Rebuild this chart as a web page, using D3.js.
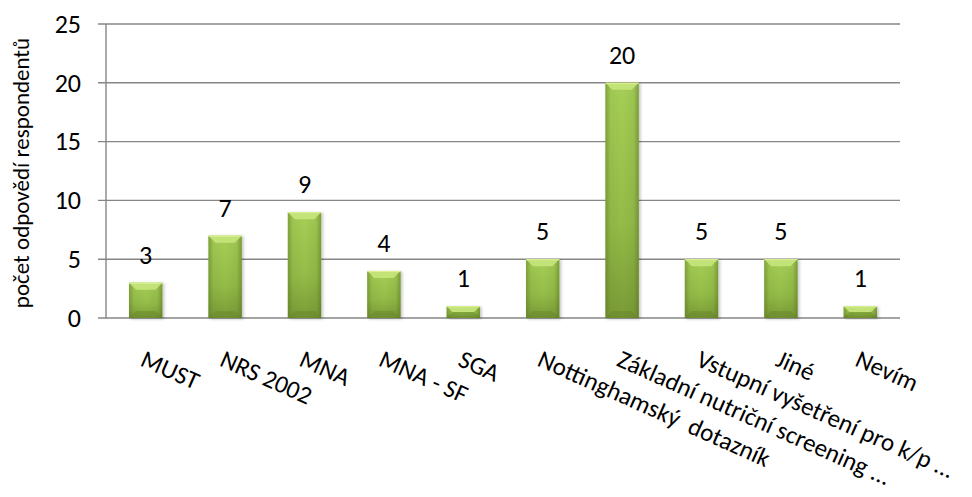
<!DOCTYPE html>
<html>
<head>
<meta charset="utf-8">
<script src="https://cdn.jsdelivr.net/npm/d3@7"></script>
<style>
  body { margin: 0; background: #fff; }
  svg { display: block; font-family: Carlito, Calibri, Lato, sans-serif; }
</style>
</head>
<body>
<div id="chart"></div>
<script>
const categories = ["MUST", "NRS 2002", "MNA", "MNA - SF", "SGA", "Nottinghamský  dotazník",
    "Základní nutriční screening ...", "Vstupní vyšetření pro k/p ...", "Jiné", "Nevím"];
const values = [3, 7, 9, 4, 1, 5, 20, 5, 5, 1];
const yTicks = [0, 5, 10, 15, 20, 25];
const yTitle = "počet odpovědí respondentů";

const width = 972, height = 497;
const plotLeft = 106, plotRight = 900, plotTop = 24, plotBottom = 318;

const svg = d3.select("#chart").append("svg")
    .attr("width", width)
    .attr("height", height);

const defs = svg.append("defs");
// body colour, light at top, darker at bottom
const vgrad = defs.append("linearGradient").attr("id", "barV")
    .attr("x1", 0).attr("x2", 0).attr("y1", 0).attr("y2", 1);
vgrad.append("stop").attr("offset", "0%").attr("stop-color", "#a6cf57");
vgrad.append("stop").attr("offset", "60%").attr("stop-color", "#94bc48");
vgrad.append("stop").attr("offset", "100%").attr("stop-color", "#7a9b36");
// darker edges left/right
const hgrad = defs.append("linearGradient").attr("id", "barH")
    .attr("x1", 0).attr("x2", 1).attr("y1", 0).attr("y2", 0);
hgrad.append("stop").attr("offset", "0%").attr("stop-color", "#4f6a1c").attr("stop-opacity", 0.45);
hgrad.append("stop").attr("offset", "15%").attr("stop-color", "#4f6a1c").attr("stop-opacity", 0.08);
hgrad.append("stop").attr("offset", "50%").attr("stop-color", "#4f6a1c").attr("stop-opacity", 0);
hgrad.append("stop").attr("offset", "85%").attr("stop-color", "#4f6a1c").attr("stop-opacity", 0.1);
hgrad.append("stop").attr("offset", "100%").attr("stop-color", "#4f6a1c").attr("stop-opacity", 0.5);

const shadow = defs.append("filter").attr("id", "shadow")
    .attr("x", "-30%").attr("y", "-10%").attr("width", "160%").attr("height", "120%");
shadow.append("feDropShadow").attr("dx", 1.5).attr("dy", 1).attr("stdDeviation", 1.5)
    .attr("flood-color", "#000").attr("flood-opacity", 0.25);

const x = d3.scaleBand()
    .domain(categories)
    .range([plotLeft, plotRight])
    .paddingInner(0.58)
    .paddingOuter(0.29);

const y = d3.scaleLinear()
    .domain([0, 25])
    .range([plotBottom, plotTop]);

// gridlines
svg.append("g").selectAll("line")
    .data(yTicks)
    .join("line")
    .attr("x1", plotLeft - 8)
    .attr("x2", plotRight)
    .attr("y1", d => y(d))
    .attr("y2", d => y(d))
    .style("stroke", "#868686")
    .style("stroke-width", 1.4);

// y axis line
svg.append("line")
    .attr("x1", plotLeft).attr("x2", plotLeft)
    .attr("y1", y(25)).attr("y2", y(0))
    .style("stroke", "#868686")
    .style("stroke-width", 1.4);

// y tick labels
svg.append("g").selectAll("text")
    .data(yTicks)
    .join("text")
    .attr("x", 81)
    .attr("y", d => y(d))
    .attr("dy", "0.34em")
    .attr("text-anchor", "end")
    .attr("font-size", 26)
    .attr("fill", "#000")
    .text(d => d);

// y title
svg.append("text")
    .attr("transform", "translate(29," + ((plotTop + plotBottom) / 2 + 2) + ") rotate(-90)")
    .attr("text-anchor", "middle")
    .attr("font-size", 23)
    .attr("fill", "#000")
    .text(yTitle);

// bars
const bevel = 7;
const bars = svg.append("g").selectAll("g")
    .data(categories.map((c, i) => ({ cat: c, val: values[i] })))
    .join("g")
    .attr("filter", "url(#shadow)");

bars.each(function (d) {
    const g = d3.select(this);
    const x0 = x(d.cat), w = x.bandwidth();
    const y0 = y(d.val), h = y(0) - y(d.val);
    const b = Math.min(bevel, h / 2, w / 2);
    g.append("rect")
        .attr("x", x0).attr("y", y0)
        .attr("width", w).attr("height", h)
        .style("fill", "url(#barV)");
    g.append("rect")
        .attr("x", x0).attr("y", y0)
        .attr("width", w).attr("height", h)
        .style("fill", "url(#barH)");
    // top bevel
    g.append("polygon")
        .attr("points", [[x0, y0], [x0 + w, y0], [x0 + w - b, y0 + b], [x0 + b, y0 + b]].join(" "))
        .style("fill", "#c6e57c")
        .style("opacity", 0.9);
    g.append("line")
        .attr("x1", x0).attr("x2", x0 + w)
        .attr("y1", y0 + 0.5).attr("y2", y0 + 0.5)
        .style("stroke", "#dcf293").style("stroke-width", 1);
    // bottom bevel
    g.append("polygon")
        .attr("points", [[x0, y0 + h], [x0 + w, y0 + h], [x0 + w - b, y0 + h - b], [x0 + b, y0 + h - b]].join(" "))
        .style("fill", "#5f7c25")
        .style("opacity", 0.35);
});

// value labels
svg.append("g").selectAll("text")
    .data(values)
    .join("text")
    .attr("x", (d, i) => x(categories[i]) + x.bandwidth() / 2)
    .attr("y", d => y(d) - 19)
    .attr("text-anchor", "middle")
    .attr("font-size", 26)
    .attr("fill", "#000")
    .text(d => d);

// category labels
svg.append("g").selectAll("text")
    .data(categories)
    .join("text")
    .attr("transform", d => "translate(" + (x(d) + x.bandwidth() / 2 + 1.5) + ",347) rotate(24)")
    .attr("dy", "0.8em")
    .attr("text-anchor", "start")
    .attr("font-size", 25)
    .attr("fill", "#000")
    .style("white-space", "pre")
    .text(d => d);
</script>
</body>
</html>
